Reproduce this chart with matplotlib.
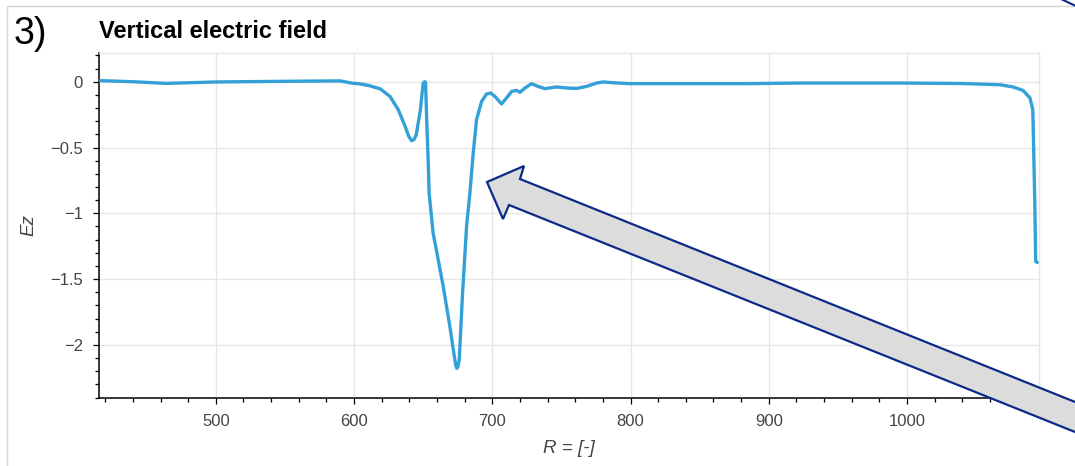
import matplotlib
matplotlib.use("Agg")
import matplotlib.pyplot as plt
from matplotlib.patches import Polygon
from matplotlib.lines import Line2D
from matplotlib.ticker import MultipleLocator, FuncFormatter

# Ez profile
R = [416, 440, 464, 500, 550, 590, 599, 604, 611, 619, 626, 632, 637, 639.6,
     641.6, 643.4, 645, 648, 650, 651, 651.7, 652.6, 653.6, 654.3, 657.2,
     660.9, 664.5, 669.3, 672.9, 673.7, 674.4, 675.2, 676.1, 678.5, 681.4,
     683.8, 686.2, 688.6, 692.3, 695.9, 698.8, 701.9, 706.7, 710.3, 714.0,
     717.6, 720.0, 723.6, 728.4, 733.2, 738.1, 746.5, 753.8, 761.0, 768.2,
     775.5, 780.2, 787.5, 799.6, 835.7, 884, 922.6, 995, 1040, 1067.3,
     1076.7, 1083.9, 1089, 1091, 1091.4, 1091.9, 1092.4, 1092.8, 1093.1,
     1094.3]
Ez = [0.008, 0.0, -0.013, -0.002, 0.003, 0.006, -0.012, -0.016, -0.030,
      -0.055, -0.112, -0.213, -0.340, -0.415, -0.448, -0.440, -0.403, -0.213,
      -0.010, 0.0, -0.004, -0.30, -0.593, -0.846, -1.150, -1.353, -1.555,
      -1.859, -2.112, -2.160, -2.178, -2.165, -2.112, -1.606, -1.100, -0.846,
      -0.542, -0.289, -0.150, -0.093, -0.086, -0.112, -0.169, -0.124, -0.074,
      -0.066, -0.081, -0.048, -0.015, -0.036, -0.053, -0.040, -0.048, -0.051,
      -0.036, -0.010, -0.002, -0.008, -0.015, -0.015, -0.015, -0.010, -0.010,
      -0.014, -0.023, -0.040, -0.066, -0.124, -0.213, -0.388, -0.644, -0.897,
      -1.147, -1.366, -1.373]

W, H = 1075, 466


def fx(px):
    return px / W


def fy(py):
    return 1 - py / H


fig = plt.figure(figsize=(W / 100, H / 100), dpi=100)
plt.rcParams["font.family"] = ["Liberation Sans", "DejaVu Sans"]

ax = fig.add_axes([fx(99), fy(398), fx(1039) - fx(99), fy(53) - fy(398)])
ax.plot(R, Ez, color="#33a0d8", lw=2.4, solid_joinstyle="round",
        solid_capstyle="round", zorder=3)

ax.set_xlim(415.5, 1095.5)
ax.set_ylim(-2.403, 0.218)
ax.xaxis.set_major_locator(MultipleLocator(100))
ax.xaxis.set_minor_locator(MultipleLocator(20))
ax.yaxis.set_major_locator(MultipleLocator(0.5))
ax.yaxis.set_minor_locator(MultipleLocator(0.1))
ax.yaxis.set_major_formatter(FuncFormatter(lambda v, p: ("%g" % v).replace("-", "\u2212")))

ax.grid(True, which="major", color="#e6e6e6", lw=1.0)
ax.set_axisbelow(True)
for s in ("top", "right"):
    ax.spines[s].set_color("#e6e6e6")
    ax.spines[s].set_linewidth(1.0)
for s in ("left", "bottom"):
    ax.spines[s].set_color("black")
    ax.spines[s].set_linewidth(1.1)

ax.tick_params(which="major", direction="out", length=4.5, width=0.9,
               color="black", labelsize=12, labelcolor="#444444", pad=7)
ax.tick_params(which="minor", direction="out", length=3, width=0.9, color="black")

ax.set_xlabel("R = [-]", fontsize=13.5, style="italic", color="#444444", labelpad=8)
ax.set_ylabel("Ez", fontsize=13.5, style="italic", color="#444444", labelpad=9)

fig.text(fx(99), fy(38), "Vertical electric field", fontsize=17,
         fontweight="bold", va="baseline", ha="left")
fig.text(fx(14), fy(44), "3)", fontsize=27, va="baseline", ha="left")

# outer frame of the screenshot
fig.add_artist(Line2D([fx(7), fx(7), 1.02], [-0.02, fy(6), fy(6)],
                      transform=fig.transFigure, color="#d6d6d6", lw=1.0))
# piece of another arrow at top right
fig.add_artist(Line2D([fx(1061), fx(1078)], [fy(-1), fy(7)],
                      transform=fig.transFigure, color="#0b2a88", lw=1.5))

# big annotation arrow
pts = [(487, 182), (524, 166), (520, 179), (1110, 416), (1110, 446),
       (509, 205), (503, 219)]
arrow = Polygon([(fx(a), fy(b)) for a, b in pts], closed=True,
                transform=fig.transFigure, facecolor="#dcdcdc",
                edgecolor="#0b2a88", lw=1.6, joinstyle="miter", zorder=10)
fig.add_artist(arrow)

fig.savefig("out.png", dpi=100)
